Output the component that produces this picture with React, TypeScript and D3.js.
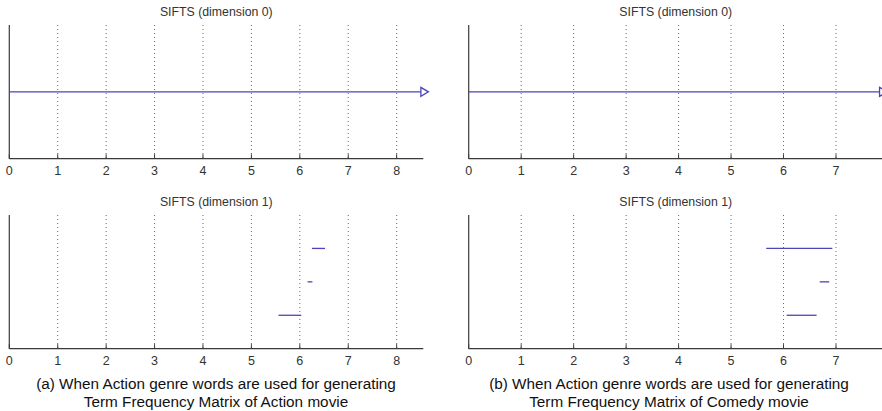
import React from "react";
import * as d3 from "d3";

const W = 882;
const H = 411;

// Panel (a): Action movie
const xTicksA = [0, 1, 2, 3, 4, 5, 6, 7, 8];
const xMaxA = 8.55;
const dim0StartA = [0];
const dim0EndA = [8.5];
const dim0LevelA = [1];
const dim1StartA = [6.25, 6.16, 5.56];
const dim1EndA = [6.52, 6.26, 6.03];
const dim1LevelA = [3, 2, 1];

// Panel (b): Comedy movie
const xTicksB = [0, 1, 2, 3, 4, 5, 6, 7];
const xMaxB = 7.89;
const dim0StartB = [0];
const dim0EndB = [7.83];
const dim0LevelB = [1];
const dim1StartB = [5.67, 6.69, 6.06];
const dim1EndB = [6.93, 6.87, 6.63];
const dim1LevelB = [3, 2, 1];

const titles = ["SIFTS (dimension 0)", "SIFTS (dimension 1)"];
const captionA = ["(a) When Action genre words are used for generating", "Term Frequency Matrix of Action movie"];
const captionB = ["(b) When Action genre words are used for generating", "Term Frequency Matrix of Comedy movie"];

const LINE = "#4b45b8";
const AXIS = "#3a3a3a";
const FONT = "'Liberation Sans', Arial, sans-serif";

type PanelProps = {
  x0: number;
  top: number;
  xMax: number;
  ticks: number[];
  starts: number[];
  ends: number[];
  levels: number[];
  yMax: number;
  title: string;
  arrow: boolean;
};

function Panel({ x0, top, xMax, ticks, starts, ends, levels, yMax, title, arrow }: PanelProps) {
  const width = 414;
  const plotH = 133.7;
  const x = d3.scaleLinear().domain([0, xMax]).range([x0, x0 + width]);
  const y = d3.scaleLinear().domain([0, yMax]).range([top + plotH, top]);
  const bottom = top + plotH;
  return (
    <g>
      <text x={x0 + width / 2} y={top - 9} textAnchor="middle" fontFamily={FONT} fontSize={12.3} fill="#333">
        {title}
      </text>
      {ticks.filter((t) => t > 0).map((t) => (
        <line key={"g" + t} x1={x(t)} x2={x(t)} y1={top} y2={bottom} stroke="#666" strokeWidth={1} strokeDasharray="1,3" />
      ))}
      {ticks.map((t) => (
        <line key={"t" + t} x1={x(t)} x2={x(t)} y1={bottom} y2={bottom - 4.5} stroke={AXIS} strokeWidth={1} />
      ))}
      <line x1={x0} x2={x0 + width} y1={bottom} y2={bottom} stroke={AXIS} strokeWidth={1.2} />
      <line x1={x0} x2={x0} y1={top} y2={bottom} stroke={AXIS} strokeWidth={1.2} />
      {ticks.map((t) => (
        <text key={"l" + t} x={x(t)} y={bottom + 16} textAnchor="middle" fontFamily={FONT} fontSize={12.5} fill="#333">
          {t}
        </text>
      ))}
      {starts.map((s, i) => (
        <line key={"b" + i} x1={x(s)} x2={x(ends[i])} y1={y(levels[i])} y2={y(levels[i])} stroke={LINE} strokeWidth={1.3} />
      ))}
      {arrow &&
        ends.map((e, i) => {
          const ex = x(e);
          const ey = y(levels[i]);
          return (
            <path
              key={"a" + i}
              d={`M${ex},${ey - 4.5}L${ex + 7.5},${ey}L${ex},${ey + 4.5}Z`}
              fill="white"
              stroke={LINE}
              strokeWidth={1.3}
            />
          );
        })}
    </g>
  );
}

export default function App() {
  const topA = 25;
  const topB = 215;
  const xA = 9.3;
  const xB = 468.7;
  return (
    <svg width={W} height={H} style={{ position: "absolute", left: 0, top: 0, background: "white" }}>
      <rect x={0} y={0} width={W} height={H} fill="white" />
      <Panel x0={xA} top={topA} xMax={xMaxA} ticks={xTicksA} starts={dim0StartA} ends={dim0EndA} levels={dim0LevelA} yMax={2} title={titles[0]} arrow={true} />
      <Panel x0={xA} top={topB} xMax={xMaxA} ticks={xTicksA} starts={dim1StartA} ends={dim1EndA} levels={dim1LevelA} yMax={4} title={titles[1]} arrow={false} />
      <Panel x0={xB} top={topA} xMax={xMaxB} ticks={xTicksB} starts={dim0StartB} ends={dim0EndB} levels={dim0LevelB} yMax={2} title={titles[0]} arrow={true} />
      <Panel x0={xB} top={topB} xMax={xMaxB} ticks={xTicksB} starts={dim1StartB} ends={dim1EndB} levels={dim1LevelB} yMax={4} title={titles[1]} arrow={false} />
      {captionA.map((c, i) => (
        <text key={"ca" + i} x={216} y={388.5 + i * 18.5} textAnchor="middle" fontFamily={FONT} fontSize={15.3} fill="#111">
          {c}
        </text>
      ))}
      {captionB.map((c, i) => (
        <text key={"cb" + i} x={669} y={388.5 + i * 18.5} textAnchor="middle" fontFamily={FONT} fontSize={15.3} fill="#111">
          {c}
        </text>
      ))}
    </svg>
  );
}
